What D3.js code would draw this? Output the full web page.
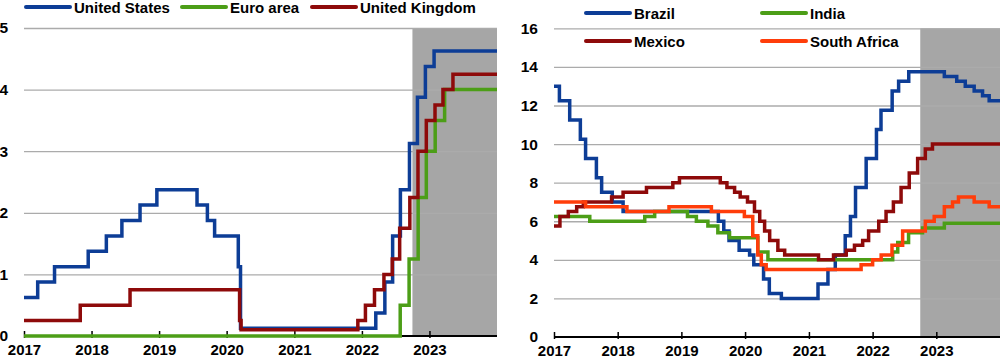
<!DOCTYPE html>
<html>
<head>
<meta charset="utf-8">
<script src="https://cdn.jsdelivr.net/npm/d3@7"></script>
<style>
  html, body { margin: 0; padding: 0; background: #ffffff; }
  svg { display: block; font-family: "Liberation Sans", Arial, sans-serif; font-weight: bold; }
</style>
</head>
<body>
<svg id="chart" width="1000" height="360"></svg>
<script>
// ---------------- DATA ----------------
const yearTicks = ["2017", "2018", "2019", "2020", "2021", "2022", "2023"];
const startDate = "2017-01-01";
const endDate = "2024-01-01";
const projectionStart = "2022-10-01";

const leftTicks = [0, 1, 2, 3, 4, 5];
const rightTicks = [0, 2, 4, 6, 8, 10, 12, 14, 16];

const leftNames = ["United States", "Euro area", "United Kingdom"];
const rightNames = ["Brazil", "India", "Mexico", "South Africa"];

// policy rates, step changes [date, %]
const unitedStates = [
  ["2017-01-01", 0.625], ["2017-03-16", 0.875], ["2017-06-15", 1.125], ["2017-12-14", 1.375],
  ["2018-03-22", 1.625], ["2018-06-14", 1.875], ["2018-09-20", 2.125], ["2018-12-20", 2.375],
  ["2019-07-25", 2.125], ["2019-09-19", 1.875], ["2019-10-28", 1.625], ["2020-03-04", 1.125],
  ["2020-03-16", 0.125], ["2022-03-17", 0.375], ["2022-05-05", 0.875], ["2022-06-16", 1.625],
  ["2022-07-28", 2.375], ["2022-09-15", 3.125], ["2022-10-28", 3.875], ["2022-12-10", 4.375],
  ["2023-01-26", 4.625], ["2024-01-01", 4.625]
];
const euroArea = [
  ["2017-01-01", 0.0], ["2022-07-27", 0.5], ["2022-09-13", 1.25], ["2022-11-01", 2.25],
  ["2022-12-15", 3.0], ["2023-02-01", 3.5], ["2023-03-24", 4.0], ["2024-01-01", 4.0]
];
const unitedKingdom = [
  ["2017-01-01", 0.25], ["2017-11-01", 0.5], ["2018-07-28", 0.75], ["2020-03-11", 0.25],
  ["2020-03-19", 0.1], ["2021-12-10", 0.25], ["2022-01-20", 0.5], ["2022-03-10", 0.75],
  ["2022-04-30", 1.0], ["2022-06-14", 1.25], ["2022-07-24", 1.75], ["2022-09-17", 2.25],
  ["2022-10-31", 3.0], ["2022-12-15", 3.5], ["2023-01-31", 3.75], ["2023-03-15", 4.0],
  ["2023-05-08", 4.25], ["2024-01-01", 4.25]
];

const brazil = [
  ["2017-01-01", 13.0], ["2017-02-01", 12.25], ["2017-04-01", 11.25], ["2017-06-01", 10.25],
  ["2017-07-01", 9.25], ["2017-09-01", 8.25], ["2017-10-01", 7.5], ["2017-12-01", 7.0],
  ["2018-02-01", 6.5], ["2019-08-01", 6.0], ["2019-09-01", 5.5], ["2019-10-01", 5.0],
  ["2019-11-28", 4.5], ["2020-01-27", 4.25], ["2020-02-20", 3.75], ["2020-04-16", 3.0],
  ["2020-05-19", 2.25], ["2020-07-27", 2.0], ["2021-02-22", 2.75], ["2021-04-20", 3.5],
  ["2021-06-01", 4.25], ["2021-07-28", 5.25], ["2021-08-27", 6.25], ["2021-09-25", 7.75],
  ["2021-11-25", 9.25], ["2022-01-23", 10.75], ["2022-02-18", 11.75], ["2022-04-23", 12.75],
  ["2022-05-30", 13.25], ["2022-07-27", 13.75], ["2023-02-16", 13.5], ["2023-04-28", 13.25],
  ["2023-06-16", 13.0], ["2023-08-06", 12.75], ["2023-09-23", 12.5], ["2023-10-31", 12.25],
  ["2024-01-01", 12.25]
];
const india = [
  ["2017-01-01", 6.25], ["2017-07-25", 6.0], ["2018-06-05", 6.25], ["2018-08-01", 6.5],
  ["2019-02-05", 6.25], ["2019-03-28", 6.0], ["2019-06-02", 5.75], ["2019-07-29", 5.4],
  ["2019-10-04", 5.15], ["2020-03-14", 4.4], ["2020-05-11", 4.0], ["2022-04-26", 4.4],
  ["2022-05-25", 4.9], ["2022-07-26", 5.4], ["2022-10-14", 5.65], ["2023-02-16", 5.9],
  ["2024-01-01", 5.9]
];
const mexico = [
  ["2017-01-01", 5.75], ["2017-02-04", 6.25], ["2017-03-24", 6.5], ["2017-05-11", 6.75],
  ["2017-06-18", 7.0], ["2017-11-27", 7.25], ["2018-02-01", 7.5], ["2018-06-15", 7.75],
  ["2018-11-13", 8.0], ["2018-12-21", 8.25], ["2019-08-12", 8.0], ["2019-09-19", 7.75],
  ["2019-11-02", 7.5], ["2019-12-04", 7.25], ["2020-01-15", 7.0], ["2020-02-24", 6.5],
  ["2020-03-25", 6.0], ["2020-04-22", 5.5], ["2020-05-21", 5.0], ["2020-07-07", 4.5],
  ["2020-08-15", 4.25], ["2021-02-25", 4.0], ["2021-05-22", 4.25], ["2021-08-03", 4.5],
  ["2021-09-19", 4.75], ["2021-11-05", 5.0], ["2021-12-09", 5.5], ["2022-02-05", 6.0],
  ["2022-03-19", 6.5], ["2022-04-30", 7.0], ["2022-06-13", 7.75], ["2022-07-30", 8.5],
  ["2022-09-16", 9.25], ["2022-10-30", 9.75], ["2022-12-10", 10.0], ["2024-01-01", 10.0]
];
const southAfrica = [
  ["2017-01-01", 7.0], ["2017-07-01", 6.75], ["2018-02-23", 6.5], ["2018-10-22", 6.75],
  ["2019-06-22", 6.5], ["2019-12-28", 6.25], ["2020-02-14", 5.25], ["2020-03-14", 4.25],
  ["2020-04-03", 3.75], ["2020-05-01", 3.5], ["2021-10-27", 3.75], ["2022-01-01", 4.0],
  ["2022-02-19", 4.25], ["2022-04-22", 4.75], ["2022-06-22", 5.5], ["2022-10-30", 6.0],
  ["2022-12-20", 6.25], ["2023-02-16", 6.75], ["2023-04-04", 7.0], ["2023-05-08", 7.25],
  ["2023-08-06", 7.0], ["2023-10-31", 6.75], ["2024-01-01", 6.75]
];

// ---------------- STYLE / LAYOUT ----------------
const colors = {
  "United States": "#0d3d96", "Euro area": "#4c9e17", "United Kingdom": "#8e0a0a",
  "Brazil": "#0d3d96", "India": "#4c9e17", "Mexico": "#8e0a0a", "South Africa": "#ff3d0a"
};

const panels = [
  {
    names: leftNames, series: [unitedStates, euroArea, unitedKingdom],
    ticks: leftTicks, x0: 24, x1: 497, yTop: 28, yBottom: 336,
    legend: [
      { x: 26, y: 7 }, { x: 182, y: 7 }, { x: 312, y: 7 }
    ]
  },
  {
    names: rightNames, series: [brazil, india, mexico, southAfrica],
    ticks: rightTicks, x0: 554, x1: 1000, yTop: 28.3, yBottom: 337,
    legend: [
      { x: 586, y: 13 }, { x: 762, y: 13 }, { x: 586, y: 41 }, { x: 762, y: 41 }
    ]
  }
];

const parse = d3.utcParse("%Y-%m-%d");
const svg = d3.select("#chart");

panels.forEach(p => {
  const x = d3.scaleUtc().domain([parse(startDate), parse(endDate)]).range([p.x0, p.x1]);
  const y = d3.scaleLinear().domain([0, d3.max(p.ticks)]).range([p.yBottom, p.yTop]);
  const g = svg.append("g");

  // projection shading
  g.append("rect")
    .attr("x", x(parse(projectionStart)))
    .attr("y", y(d3.max(p.ticks)))
    .attr("width", x(parse(endDate)) - x(parse(projectionStart)))
    .attr("height", y(0) - y(d3.max(p.ticks)))
    .attr("fill", "#a6a6a6");

  // gridlines
  g.append("g")
    .attr("transform", `translate(${p.x0},0)`)
    .call(d3.axisLeft(y).tickValues(p.ticks.filter(t => t > 0)).tickSize(-(p.x1 - p.x0)).tickFormat(""))
    .call(a => a.select(".domain").remove())
    .call(a => a.selectAll("line").attr("stroke", "#ababab").attr("stroke-width", 1.3));

  // y labels
  g.append("g")
    .attr("transform", `translate(${p.x0},0)`)
    .call(d3.axisLeft(y).tickValues(p.ticks).tickSize(0).tickPadding(16).tickFormat(d3.format("d")))
    .call(a => a.select(".domain").remove())
    .call(a => a.selectAll("text").attr("fill", "#000").style("font-size", "15.5px")
      .style("font-family", "'Liberation Sans', Arial, sans-serif").style("font-weight", "bold"));

  // x axis
  const xa = g.append("g")
    .attr("transform", `translate(0,${y(0)})`)
    .call(d3.axisBottom(x).tickValues(yearTicks.map(t => parse(t + "-01-01")))
      .tickFormat(d3.utcFormat("%Y")).tickSizeInner(-4).tickSizeOuter(0).tickPadding(8));
  xa.select(".domain").attr("stroke", "#000").attr("stroke-width", 2)
    .attr("d", `M${p.x0},0H${p.x1}`);
  xa.selectAll(".tick line").attr("stroke", "#000").attr("stroke-width", 1.5).attr("y2", -5).attr("y1", 2);
  xa.selectAll("text").attr("fill", "#000").style("font-size", "15px")
    .style("font-family", "'Liberation Sans', Arial, sans-serif").style("font-weight", "bold");

  // lines
  const line = d3.line()
    .x(d => x(parse(d[0])))
    .y(d => y(d[1]))
    .curve(d3.curveStepAfter);
  p.series.forEach((s, i) => {
    g.append("path")
      .datum(s)
      .attr("d", line)
      .attr("fill", "none")
      .attr("stroke", colors[p.names[i]])
      .attr("stroke-width", 3.5)
      .attr("stroke-linejoin", "miter")
      .attr("stroke-linecap", "butt");
  });

  // legend
  p.names.forEach((n, i) => {
    const L = p.legend[i];
    g.append("line")
      .attr("x1", L.x).attr("x2", L.x + 44)
      .attr("y1", L.y).attr("y2", L.y)
      .attr("stroke", colors[n]).attr("stroke-width", 4).attr("stroke-linecap", "round");
    g.append("text")
      .attr("x", L.x + 48).attr("y", L.y + 5.5)
      .style("font-size", "15px")
      .attr("fill", "#000")
      .text(n);
  });
});
</script>
</body>
</html>
